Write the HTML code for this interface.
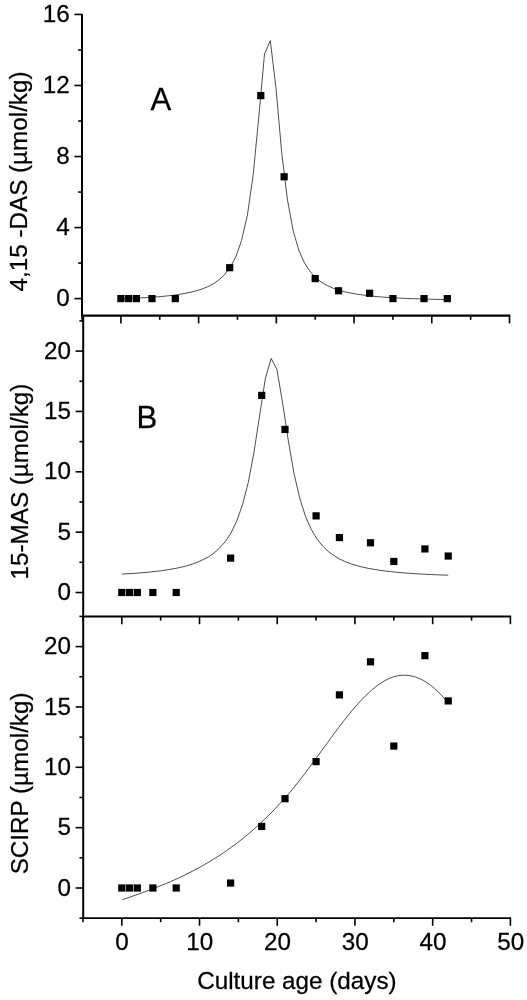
<!DOCTYPE html>
<html lang="en">
<head>
<meta charset="utf-8">
<title>Culture age chart</title>
<style>
html,body{margin:0;padding:0;background:#fff;}
svg{display:block;}
text{font-family:"Liberation Sans",Arial,sans-serif;font-size:24.25px;fill:#000;stroke:#000;stroke-width:0.25px;}
</style>
</head>
<body>
<svg width="527" height="1000" viewBox="0 0 527 1000">
<rect width="527" height="1000" fill="#fff"/>
<g stroke="#000" fill="none" stroke-linecap="butt">
<line x1="82.00" y1="14.00" x2="82.00" y2="315.70" stroke-width="2.0"/>
<line x1="83.20" y1="315.70" x2="83.20" y2="918.90" stroke-width="2.0"/>
<line x1="81.00" y1="315.70" x2="510.30" y2="315.70" stroke-width="2.2"/>
<line x1="82.20" y1="616.50" x2="511.10" y2="616.50" stroke-width="2.0"/>
<line x1="82.20" y1="918.10" x2="511.10" y2="918.10" stroke-width="1.7"/>
<line x1="74.40" y1="298.60" x2="82.00" y2="298.60" stroke-width="1.6"/>
<line x1="74.40" y1="227.56" x2="82.00" y2="227.56" stroke-width="1.6"/>
<line x1="74.40" y1="156.52" x2="82.00" y2="156.52" stroke-width="1.6"/>
<line x1="74.40" y1="85.48" x2="82.00" y2="85.48" stroke-width="1.6"/>
<line x1="74.40" y1="14.44" x2="82.00" y2="14.44" stroke-width="1.6"/>
<line x1="78.20" y1="263.08" x2="82.00" y2="263.08" stroke-width="1.6"/>
<line x1="78.20" y1="192.04" x2="82.00" y2="192.04" stroke-width="1.6"/>
<line x1="78.20" y1="121.00" x2="82.00" y2="121.00" stroke-width="1.6"/>
<line x1="78.20" y1="49.96" x2="82.00" y2="49.96" stroke-width="1.6"/>
<line x1="75.60" y1="592.50" x2="83.20" y2="592.50" stroke-width="1.6"/>
<line x1="75.60" y1="532.15" x2="83.20" y2="532.15" stroke-width="1.6"/>
<line x1="75.60" y1="471.80" x2="83.20" y2="471.80" stroke-width="1.6"/>
<line x1="75.60" y1="411.45" x2="83.20" y2="411.45" stroke-width="1.6"/>
<line x1="75.60" y1="351.10" x2="83.20" y2="351.10" stroke-width="1.6"/>
<line x1="79.40" y1="562.33" x2="83.20" y2="562.33" stroke-width="1.6"/>
<line x1="79.40" y1="501.98" x2="83.20" y2="501.98" stroke-width="1.6"/>
<line x1="79.40" y1="441.62" x2="83.20" y2="441.62" stroke-width="1.6"/>
<line x1="79.40" y1="381.27" x2="83.20" y2="381.27" stroke-width="1.6"/>
<line x1="79.40" y1="320.93" x2="83.20" y2="320.93" stroke-width="1.6"/>
<line x1="75.60" y1="888.00" x2="83.20" y2="888.00" stroke-width="1.6"/>
<line x1="75.60" y1="827.65" x2="83.20" y2="827.65" stroke-width="1.6"/>
<line x1="75.60" y1="767.30" x2="83.20" y2="767.30" stroke-width="1.6"/>
<line x1="75.60" y1="706.95" x2="83.20" y2="706.95" stroke-width="1.6"/>
<line x1="75.60" y1="646.60" x2="83.20" y2="646.60" stroke-width="1.6"/>
<line x1="79.40" y1="918.17" x2="83.20" y2="918.17" stroke-width="1.6"/>
<line x1="79.40" y1="857.83" x2="83.20" y2="857.83" stroke-width="1.6"/>
<line x1="79.40" y1="797.48" x2="83.20" y2="797.48" stroke-width="1.6"/>
<line x1="79.40" y1="737.12" x2="83.20" y2="737.12" stroke-width="1.6"/>
<line x1="79.40" y1="676.77" x2="83.20" y2="676.77" stroke-width="1.6"/>
<line x1="79.40" y1="616.42" x2="83.20" y2="616.42" stroke-width="1.6"/>
<line x1="120.90" y1="315.70" x2="120.90" y2="323.40" stroke-width="1.6"/>
<line x1="198.62" y1="315.70" x2="198.62" y2="323.40" stroke-width="1.6"/>
<line x1="276.34" y1="315.70" x2="276.34" y2="323.40" stroke-width="1.6"/>
<line x1="354.06" y1="315.70" x2="354.06" y2="323.40" stroke-width="1.6"/>
<line x1="431.78" y1="315.70" x2="431.78" y2="323.40" stroke-width="1.6"/>
<line x1="509.50" y1="315.70" x2="509.50" y2="323.40" stroke-width="1.6"/>
<line x1="82.04" y1="315.70" x2="82.04" y2="319.80" stroke-width="1.6"/>
<line x1="159.76" y1="315.70" x2="159.76" y2="319.80" stroke-width="1.6"/>
<line x1="237.48" y1="315.70" x2="237.48" y2="319.80" stroke-width="1.6"/>
<line x1="315.20" y1="315.70" x2="315.20" y2="319.80" stroke-width="1.6"/>
<line x1="392.92" y1="315.70" x2="392.92" y2="319.80" stroke-width="1.6"/>
<line x1="470.64" y1="315.70" x2="470.64" y2="319.80" stroke-width="1.6"/>
<line x1="121.80" y1="616.50" x2="121.80" y2="624.20" stroke-width="1.6"/>
<line x1="199.52" y1="616.50" x2="199.52" y2="624.20" stroke-width="1.6"/>
<line x1="277.24" y1="616.50" x2="277.24" y2="624.20" stroke-width="1.6"/>
<line x1="354.96" y1="616.50" x2="354.96" y2="624.20" stroke-width="1.6"/>
<line x1="432.68" y1="616.50" x2="432.68" y2="624.20" stroke-width="1.6"/>
<line x1="510.40" y1="616.50" x2="510.40" y2="624.20" stroke-width="1.6"/>
<line x1="82.94" y1="616.50" x2="82.94" y2="620.60" stroke-width="1.6"/>
<line x1="160.66" y1="616.50" x2="160.66" y2="620.60" stroke-width="1.6"/>
<line x1="238.38" y1="616.50" x2="238.38" y2="620.60" stroke-width="1.6"/>
<line x1="316.10" y1="616.50" x2="316.10" y2="620.60" stroke-width="1.6"/>
<line x1="393.82" y1="616.50" x2="393.82" y2="620.60" stroke-width="1.6"/>
<line x1="471.54" y1="616.50" x2="471.54" y2="620.60" stroke-width="1.6"/>
<line x1="121.80" y1="918.10" x2="121.80" y2="925.80" stroke-width="1.6"/>
<line x1="199.52" y1="918.10" x2="199.52" y2="925.80" stroke-width="1.6"/>
<line x1="277.24" y1="918.10" x2="277.24" y2="925.80" stroke-width="1.6"/>
<line x1="354.96" y1="918.10" x2="354.96" y2="925.80" stroke-width="1.6"/>
<line x1="432.68" y1="918.10" x2="432.68" y2="925.80" stroke-width="1.6"/>
<line x1="510.40" y1="918.10" x2="510.40" y2="925.80" stroke-width="1.6"/>
<line x1="82.94" y1="918.10" x2="82.94" y2="922.20" stroke-width="1.6"/>
<line x1="160.66" y1="918.10" x2="160.66" y2="922.20" stroke-width="1.6"/>
<line x1="238.38" y1="918.10" x2="238.38" y2="922.20" stroke-width="1.6"/>
<line x1="316.10" y1="918.10" x2="316.10" y2="922.20" stroke-width="1.6"/>
<line x1="393.82" y1="918.10" x2="393.82" y2="922.20" stroke-width="1.6"/>
<line x1="471.54" y1="918.10" x2="471.54" y2="922.20" stroke-width="1.6"/>
</g>
<g stroke="#000" stroke-width="0.7" fill="none" stroke-linejoin="miter">
<path d="M120.9 298.8 L121.4 298.8 L127.1 298.6 L132.8 298.3 L138.5 298.0 L144.3 297.7 L150.0 297.4 L155.7 297.0 L161.4 296.5 L167.2 295.9 L172.9 295.3 L178.6 294.5 L184.4 293.5 L190.1 292.4 L195.8 290.9 L201.5 289.2 L207.3 286.9 L213.0 284.0 L218.7 280.1 L224.5 274.8 L230.2 267.4 L235.9 256.6 L241.6 240.4 L247.4 215.2 L253.1 175.5 L258.8 117.0 L264.5 54.0 L270.3 40.6 L276.0 88.2 L281.7 152.6 L287.5 200.2 L293.2 230.9 L298.9 250.4 L304.6 263.2 L310.4 271.9 L316.1 278.0 L321.8 282.4 L327.6 285.7 L333.3 288.3 L339.0 290.2 L344.7 291.8 L350.5 293.0 L356.2 294.1 L361.9 294.9 L367.7 295.6 L373.4 296.2 L379.1 296.8 L384.8 297.2 L390.6 297.6 L396.3 297.9 L402.0 298.2 L407.7 298.5 L413.5 298.7 L419.2 298.9 L424.9 299.1 L430.7 299.2 L436.4 299.4 L442.1 299.5 L447.3 299.6"/>
<path d="M121.8 574.1 L122.3 574.1 L128.0 573.7 L133.7 573.4 L139.4 572.9 L145.2 572.5 L150.9 571.9 L156.6 571.3 L162.3 570.6 L168.1 569.7 L173.8 568.7 L179.5 567.6 L185.3 566.2 L191.0 564.5 L196.7 562.5 L202.4 560.0 L208.2 557.0 L213.9 553.1 L219.6 548.0 L225.4 541.5 L231.1 532.8 L236.8 520.9 L242.5 504.7 L248.3 482.3 L254.0 452.2 L259.7 415.0 L265.4 378.2 L271.2 358.5 L276.9 369.3 L282.6 402.9 L288.4 441.2 L294.1 473.8 L299.8 498.5 L305.5 516.4 L311.3 529.5 L317.0 539.0 L322.7 546.2 L328.5 551.6 L334.2 555.8 L339.9 559.2 L345.6 561.8 L351.4 564.0 L357.1 565.7 L362.8 567.2 L368.6 568.4 L374.3 569.4 L380.0 570.3 L385.7 571.1 L391.5 571.7 L397.2 572.3 L402.9 572.8 L408.6 573.2 L414.4 573.6 L420.1 574.0 L425.8 574.3 L431.6 574.6 L437.3 574.8 L443.0 575.0 L448.2 575.2"/>
<path d="M122.3 899.7 L125.0 898.8 L127.8 897.8 L130.5 896.9 L133.3 895.9 L136.0 895.0 L138.7 894.0 L141.5 893.0 L144.2 892.0 L146.9 891.0 L149.7 890.0 L152.4 889.0 L155.2 887.9 L157.9 886.8 L160.6 885.7 L163.4 884.6 L166.1 883.5 L168.9 882.3 L171.6 881.1 L174.3 879.9 L177.1 878.7 L179.8 877.4 L182.6 876.1 L185.3 874.8 L188.0 873.4 L190.8 872.0 L193.5 870.6 L196.2 869.2 L199.0 867.7 L201.7 866.2 L204.5 864.6 L207.2 863.0 L209.9 861.4 L212.7 859.7 L215.4 858.0 L218.2 856.3 L220.9 854.5 L223.6 852.7 L226.4 850.8 L229.1 848.8 L231.8 846.9 L234.6 844.9 L237.3 842.8 L240.1 840.7 L242.8 838.5 L245.5 836.3 L248.3 834.0 L251.0 831.7 L253.8 829.3 L256.5 826.9 L259.2 824.4 L262.0 821.8 L264.7 819.2 L267.4 816.5 L270.2 813.8 L272.9 811.0 L275.7 808.1 L278.4 805.2 L281.1 802.2 L283.9 799.2 L286.6 796.1 L289.4 792.9 L292.1 789.6 L294.8 786.3 L297.6 782.9 L300.3 779.4 L303.1 775.9 L305.8 772.3 L308.5 768.6 L311.3 764.9 L314.0 761.2 L316.7 757.5 L319.5 753.7 L322.2 749.9 L325.0 746.1 L327.7 742.4 L330.4 738.6 L333.2 734.9 L335.9 731.2 L338.7 727.5 L341.4 723.9 L344.1 720.4 L346.9 716.9 L349.6 713.5 L352.3 710.2 L355.1 707.0 L357.8 703.9 L360.6 700.9 L363.3 698.1 L366.0 695.3 L368.8 692.7 L371.5 690.2 L374.3 687.9 L377.0 685.8 L379.7 683.8 L382.5 682.1 L385.2 680.5 L387.9 679.1 L390.7 677.9 L393.4 676.9 L396.2 676.1 L398.9 675.6 L401.6 675.3 L404.4 675.2 L407.1 675.3 L409.9 675.7 L412.6 676.2 L415.3 677.0 L418.1 678.0 L420.8 679.2 L423.6 680.6 L426.3 682.2 L429.0 684.1 L431.8 686.2 L434.5 688.4 L437.2 690.9 L440.0 693.7 L442.7 696.6 L445.5 699.7 L448.2 703.1"/>
</g>
<g fill="#000">
<rect x="117.30" y="295.00" width="7.2" height="7.2"/>
<rect x="125.07" y="295.00" width="7.2" height="7.2"/>
<rect x="132.84" y="295.00" width="7.2" height="7.2"/>
<rect x="148.39" y="295.00" width="7.2" height="7.2"/>
<rect x="171.70" y="295.00" width="7.2" height="7.2"/>
<rect x="226.11" y="264.10" width="7.2" height="7.2"/>
<rect x="257.20" y="92.00" width="7.2" height="7.2"/>
<rect x="280.51" y="173.17" width="7.2" height="7.2"/>
<rect x="311.60" y="275.00" width="7.2" height="7.2"/>
<rect x="334.92" y="287.19" width="7.2" height="7.2"/>
<rect x="366.00" y="289.67" width="7.2" height="7.2"/>
<rect x="389.32" y="295.00" width="7.2" height="7.2"/>
<rect x="420.41" y="295.00" width="7.2" height="7.2"/>
<rect x="443.72" y="295.00" width="7.2" height="7.2"/>
<rect x="118.20" y="588.90" width="7.2" height="7.2"/>
<rect x="125.97" y="588.90" width="7.2" height="7.2"/>
<rect x="133.74" y="588.90" width="7.2" height="7.2"/>
<rect x="149.29" y="588.90" width="7.2" height="7.2"/>
<rect x="172.60" y="588.90" width="7.2" height="7.2"/>
<rect x="227.01" y="554.50" width="7.2" height="7.2"/>
<rect x="258.10" y="391.80" width="7.2" height="7.2"/>
<rect x="281.41" y="425.83" width="7.2" height="7.2"/>
<rect x="312.50" y="512.26" width="7.2" height="7.2"/>
<rect x="335.82" y="533.98" width="7.2" height="7.2"/>
<rect x="366.90" y="539.17" width="7.2" height="7.2"/>
<rect x="390.22" y="557.88" width="7.2" height="7.2"/>
<rect x="421.31" y="545.33" width="7.2" height="7.2"/>
<rect x="444.62" y="552.45" width="7.2" height="7.2"/>
<rect x="118.20" y="884.40" width="7.2" height="7.2"/>
<rect x="125.97" y="884.40" width="7.2" height="7.2"/>
<rect x="133.74" y="884.40" width="7.2" height="7.2"/>
<rect x="149.29" y="884.40" width="7.2" height="7.2"/>
<rect x="172.60" y="884.40" width="7.2" height="7.2"/>
<rect x="227.01" y="879.45" width="7.2" height="7.2"/>
<rect x="258.10" y="822.84" width="7.2" height="7.2"/>
<rect x="281.41" y="795.08" width="7.2" height="7.2"/>
<rect x="312.50" y="758.03" width="7.2" height="7.2"/>
<rect x="335.82" y="691.28" width="7.2" height="7.2"/>
<rect x="366.90" y="658.21" width="7.2" height="7.2"/>
<rect x="390.22" y="742.46" width="7.2" height="7.2"/>
<rect x="421.31" y="652.05" width="7.2" height="7.2"/>
<rect x="444.62" y="697.31" width="7.2" height="7.2"/>
</g>
<g>
<text transform="translate(69.7,305.9) scale(1,1.012)" text-anchor="end">0</text>
<text transform="translate(69.7,234.9) scale(1,1.012)" text-anchor="end">4</text>
<text transform="translate(69.7,163.8) scale(1,1.012)" text-anchor="end">8</text>
<text transform="translate(69.7,92.8) scale(1,1.012)" text-anchor="end">12</text>
<text transform="translate(69.7,21.7) scale(1,1.012)" text-anchor="end">16</text>
<text transform="translate(70.9,600.0) scale(1,1.012)" text-anchor="end">0</text>
<text transform="translate(70.9,539.6) scale(1,1.012)" text-anchor="end">5</text>
<text transform="translate(70.9,479.3) scale(1,1.012)" text-anchor="end">10</text>
<text transform="translate(70.9,418.9) scale(1,1.012)" text-anchor="end">15</text>
<text transform="translate(70.9,358.6) scale(1,1.012)" text-anchor="end">20</text>
<text transform="translate(70.9,895.7) scale(1,1.012)" text-anchor="end">0</text>
<text transform="translate(70.9,835.4) scale(1,1.012)" text-anchor="end">5</text>
<text transform="translate(70.9,775.0) scale(1,1.012)" text-anchor="end">10</text>
<text transform="translate(70.9,714.7) scale(1,1.012)" text-anchor="end">15</text>
<text transform="translate(70.9,654.3) scale(1,1.012)" text-anchor="end">20</text>
<text transform="translate(122.1,949.6) scale(1,1.012)" text-anchor="middle">0</text>
<text transform="translate(199.8,949.6) scale(1,1.012)" text-anchor="middle">10</text>
<text transform="translate(277.5,949.6) scale(1,1.012)" text-anchor="middle">20</text>
<text transform="translate(355.3,949.6) scale(1,1.012)" text-anchor="middle">30</text>
<text transform="translate(433.0,949.6) scale(1,1.012)" text-anchor="middle">40</text>
<text transform="translate(510.7,949.6) scale(1,1.012)" text-anchor="middle">50</text>
<text transform="translate(296.9,989.2) scale(1,1.012)" text-anchor="middle">Culture age (days)</text>
<text transform="translate(27.3,181.5) rotate(-90) scale(1,1.02)" text-anchor="middle">4,15 -DAS (µmol/kg)</text>
<text transform="translate(28.1,481.6) rotate(-90) scale(1,1.02)" text-anchor="middle">15-MAS (µmol/kg)</text>
<text transform="translate(28.1,783.4) rotate(-90) scale(1,1.02)" text-anchor="middle">SCIRP (µmol/kg)</text>
<text transform="translate(150.5,109.8) scale(1,1.012)" style="font-size:31.1px">A</text>
<text transform="translate(136.4,428.3) scale(1,1.012)" style="font-size:31.1px">B</text>
</g>
</svg>
</body>
</html>
